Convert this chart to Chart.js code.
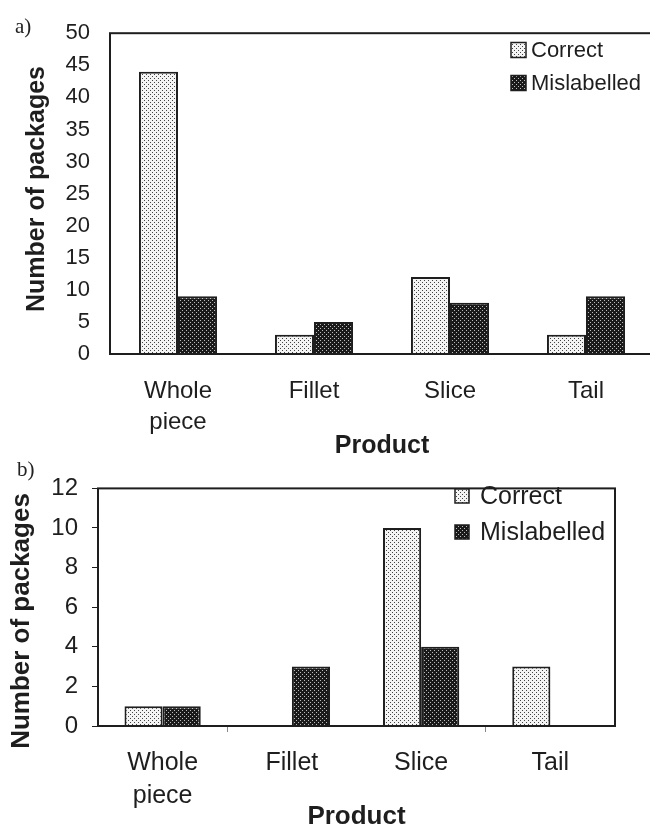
<!DOCTYPE html>
<html>
<head>
<meta charset="utf-8">
<script src="https://cdn.jsdelivr.net/npm/chart.js@4.4.1/dist/chart.umd.min.js"></script>
<style>
    html, body { margin: 0; padding: 0; background: #fff; width: 650px; height: 830px; overflow: hidden; }
    .panel { position: absolute; left: 0; }
    .tag { position: absolute; font-family: "Liberation Serif", serif; font-size: 21px; line-height: 21px; color: #222; z-index: 2; }
</style>
</head>
<body>
<canvas id="chartA" class="panel" style="top:0"></canvas>
<canvas id="chartB" class="panel" style="top:460px"></canvas>
<div class="tag" style="left:15px;top:16px">a)</div>
<div class="tag" style="left:17px;top:459px">b)</div>
<script>
const products = [['Whole', 'piece'], 'Fillet', 'Slice', 'Tail'];
const seriesNames = ['Correct', 'Mislabelled'];

// panel a)
const correctA = [44, 3, 12, 3];
const mislabelledA = [9, 5, 8, 9];
const yMaxA = 50, yStepA = 5;

// panel b)
const correctB = [1, 0, 10, 3];
const mislabelledB = [1, 3, 4, 0];
const yMaxB = 12, yStepB = 2;

const INK = '#1e1e1e';
const SANS = 'Liberation Sans, Arial, sans-serif';

function dotPattern(bg, dot) {
    const c = document.createElement('canvas');
    c.width = 4; c.height = 4;
    const g = c.getContext('2d');
    g.fillStyle = bg;
    g.fillRect(0, 0, 4, 4);
    g.fillStyle = dot;
    g.fillRect(0, 0, 1, 1);
    g.fillRect(2, 2, 1, 1);
    return g.createPattern(c, 'repeat');
}
const lightFill = dotPattern('#f4f4f4', '#444');
const darkFill = dotPattern('#1a1a1a', '#bdbdbd');

// box round the plot area
const framePlugin = {
    id: 'frame',
    afterDatasetsDraw(chart) {
        const { ctx, chartArea: a } = chart;
        ctx.save();
        ctx.strokeStyle = INK;
        ctx.lineWidth = 2;
        ctx.strokeRect(a.left, a.top, a.right - a.left, a.bottom - a.top);
        ctx.restore();
    }
};

// legend with square markers, drawn inside the plot
const boxLegend = {
    id: 'boxLegend',
    afterDraw(chart, args, o) {
        const ctx = chart.ctx;
        ctx.save();
        ctx.font = o.size + 'px ' + SANS;
        ctx.textBaseline = 'middle';
        chart.data.datasets.forEach((ds, i) => {
            const cy = o.y + i * o.gap;
            ctx.fillStyle = ds.backgroundColor;
            ctx.fillRect(o.x, cy - o.box / 2, o.box, o.box);
            ctx.strokeStyle = INK;
            ctx.lineWidth = 1.5;
            ctx.strokeRect(o.x, cy - o.box / 2, o.box, o.box);
            ctx.fillStyle = INK;
            ctx.fillText(ds.label, o.x + o.box + o.space, cy + 1);
        });
        ctx.restore();
    }
};

// rotated y axis title
const sideTitle = {
    id: 'sideTitle',
    afterDraw(chart, args, o) {
        const ctx = chart.ctx;
        ctx.save();
        ctx.translate(o.x, o.y);
        ctx.rotate(-Math.PI / 2);
        ctx.font = 'bold ' + o.size + 'px ' + SANS;
        ctx.fillStyle = INK;
        ctx.textAlign = 'center';
        ctx.textBaseline = 'middle';
        ctx.fillText(o.text, 0, 0);
        ctx.restore();
    }
};

function makeChart(id, cfg) {
    const canvas = document.getElementById(id);
    canvas.width = cfg.w;
    canvas.height = cfg.h;
    return new Chart(canvas.getContext('2d'), {
        type: 'bar',
        data: {
            labels: products,
            datasets: [{
                label: seriesNames[0],
                data: cfg.correct,
                backgroundColor: lightFill,
                borderColor: INK,
                borderWidth: 2
            }, {
                label: seriesNames[1],
                data: cfg.mislabelled,
                backgroundColor: darkFill,
                borderColor: INK,
                borderWidth: 2
            }]
        },
        options: {
            responsive: false,
            animation: false,
            layout: { padding: { top: cfg.padTop, right: cfg.padRight, left: 0, bottom: 0 } },
            datasets: { bar: { categoryPercentage: cfg.catPct, barPercentage: 1 } },
            plugins: {
                legend: { display: false },
                tooltip: { enabled: false },
                boxLegend: cfg.legend,
                sideTitle: cfg.title
            },
            scales: {
                x: {
                    afterFit: (s) => { s.height = cfg.xHeight; },
                    border: { display: false },
                    grid: {
                        drawOnChartArea: false,
                        drawTicks: cfg.xTicks,
                        tickLength: 6,
                        // only the inner separators 1 and 3 show a tick in the source
                        color: (c) => (c.index === 1 || c.index === 3) ? '#888' : 'rgba(0,0,0,0)',
                        lineWidth: 1
                    },
                    ticks: {
                        color: INK,
                        padding: cfg.xPad,
                        maxRotation: 0,
                        autoSkip: false,
                        font: { family: SANS, size: cfg.xFont, lineHeight: 1.3 }
                    },
                    title: {
                        display: true,
                        text: 'Product',
                        color: INK,
                        padding: { top: 0, bottom: cfg.prodPad },
                        font: { family: SANS, size: cfg.prodFont, weight: 'bold', lineHeight: 1 }
                    }
                },
                y: {
                    min: 0,
                    max: cfg.yMax,
                    afterFit: (s) => { s.width = cfg.yWidth; },
                    border: { display: false },
                    grid: {
                        drawOnChartArea: false,
                        drawTicks: cfg.yTicks,
                        tickLength: 6,
                        color: INK,
                        lineWidth: 1
                    },
                    ticks: {
                        stepSize: cfg.yStep,
                        color: INK,
                        padding: cfg.yPad,
                        font: { family: SANS, size: cfg.yFont }
                    }
                }
            }
        },
        plugins: [framePlugin, boxLegend, sideTitle]
    });
}

makeChart('chartA', {
    w: 660, h: 470,
    correct: correctA, mislabelled: mislabelledA,
    yMax: yMaxA, yStep: yStepA,
    padTop: 29, padRight: 6,
    xHeight: 116, yWidth: 110,
    catPct: 0.574,
    xTicks: false, xPad: 22, xFont: 24,
    prodFont: 25, prodPad: 11,
    yTicks: false, yPad: 20, yFont: 22,
    legend: { x: 511, y: 50, gap: 33, box: 15, space: 5, size: 22 },
    title: { text: 'Number of packages', x: 37, y: 189, size: 25 }
});

makeChart('chartB', {
    w: 650, h: 372,
    correct: correctB, mislabelled: mislabelledB,
    yMax: yMaxB, yStep: yStepB,
    padTop: 18, padRight: 35,
    xHeight: 106, yWidth: 98,
    catPct: 0.59,
    xTicks: true, xPad: 15, xFont: 25,
    prodFont: 26, prodPad: 2,
    yTicks: true, yPad: 14, yFont: 24,
    legend: { x: 455, y: 36, gap: 36, box: 14, space: 11, size: 25 },
    title: { text: 'Number of packages', x: 22, y: 161, size: 26 }
});
</script>
</body>
</html>
